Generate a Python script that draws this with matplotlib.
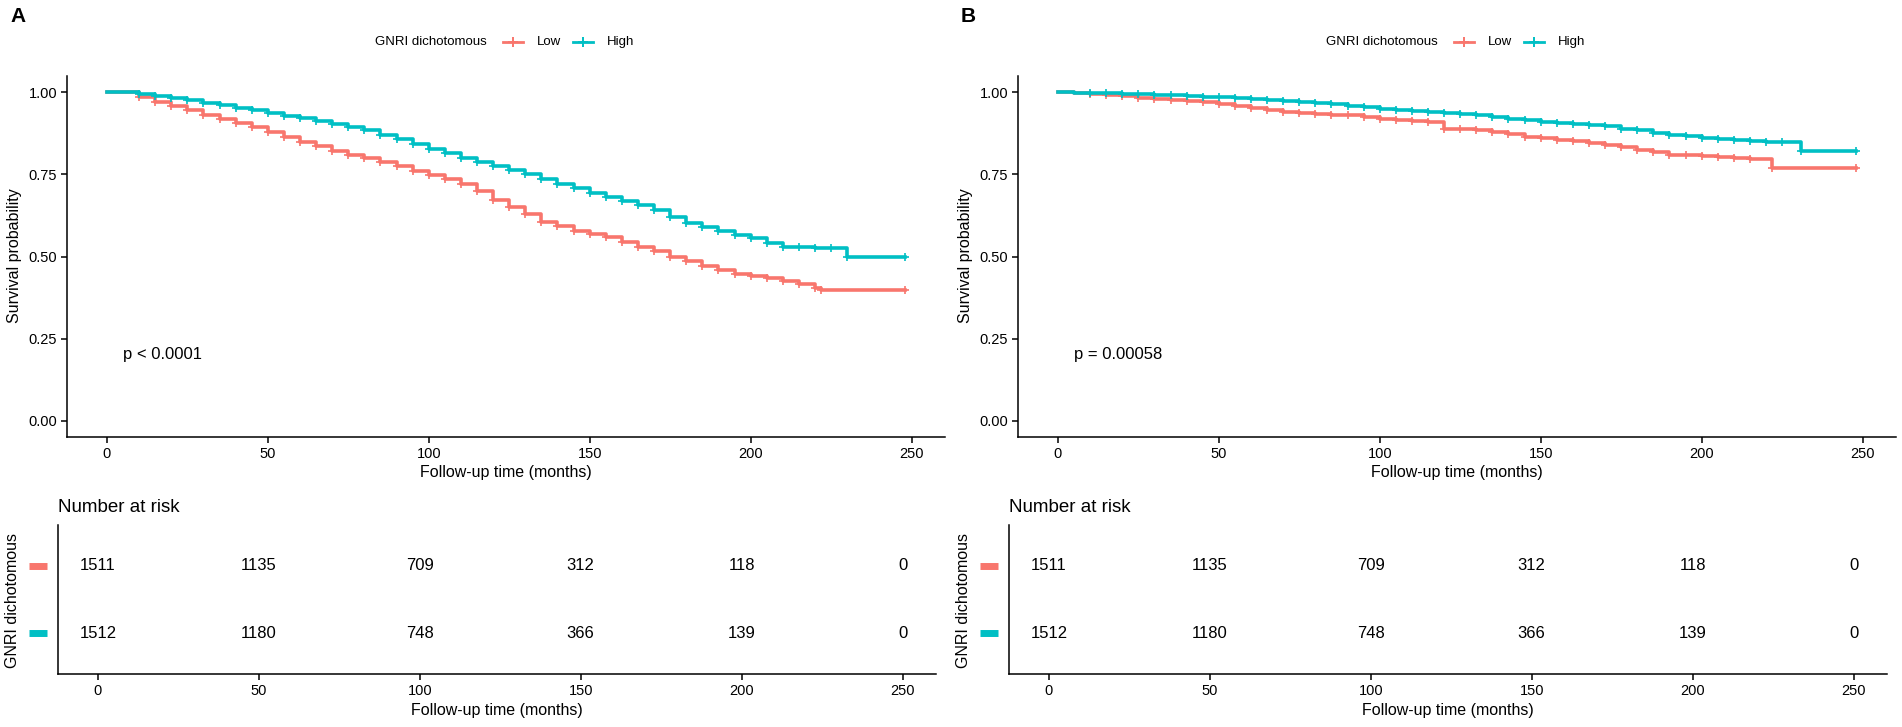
import matplotlib
matplotlib.use('Agg')
import matplotlib.pyplot as plt
from matplotlib import transforms
from matplotlib.lines import Line2D

plt.rcParams['font.family'] = ['Liberation Sans', 'DejaVu Sans']

W, H = 1902, 727

low_col = '#F8766D'
high_col = '#00BFC4'

# panel A survival curves
a_low_t = [0, 5, 10, 15, 20, 25, 30, 35, 40, 45, 50, 55, 60, 65, 70, 75, 80,
           85, 90, 95, 100, 105, 110, 115, 120, 125, 130, 135, 140, 145, 150,
           155, 160, 165, 170, 175, 180, 185, 190, 195, 200, 205, 210, 215,
           220, 222, 248]
a_low_s = [1.0, 1.0, 0.985, 0.972, 0.96, 0.946, 0.932, 0.92, 0.907, 0.894,
           0.879, 0.864, 0.849, 0.836, 0.822, 0.81, 0.799, 0.787, 0.775, 0.76,
           0.748, 0.737, 0.72, 0.70, 0.672, 0.652, 0.628, 0.605, 0.592, 0.578,
           0.57, 0.56, 0.545, 0.53, 0.517, 0.50, 0.485, 0.472, 0.46, 0.448,
           0.44, 0.434, 0.425, 0.415, 0.405, 0.398, 0.398]
a_high_t = [0, 5, 10, 15, 20, 25, 30, 35, 40, 45, 50, 55, 60, 65, 70, 75, 80,
            85, 90, 95, 100, 105, 110, 115, 120, 125, 130, 135, 140, 145, 150,
            155, 160, 165, 170, 175, 180, 185, 190, 195, 200, 205, 210, 215,
            220, 225, 230, 248]
a_high_s = [1.0, 1.0, 0.995, 0.99, 0.983, 0.976, 0.969, 0.961, 0.953, 0.945,
            0.937, 0.929, 0.921, 0.913, 0.904, 0.895, 0.884, 0.871, 0.857,
            0.843, 0.828, 0.814, 0.80, 0.789, 0.775, 0.765, 0.752, 0.737,
            0.722, 0.708, 0.695, 0.682, 0.67, 0.658, 0.642, 0.62, 0.603, 0.59,
            0.578, 0.566, 0.556, 0.542, 0.53, 0.528, 0.527, 0.526, 0.50, 0.50]

# panel B survival curves
b_low_t = [0, 5, 10, 15, 20, 25, 30, 35, 40, 45, 50, 55, 60, 65, 70, 75, 80,
           85, 90, 95, 100, 105, 110, 115, 120, 125, 130, 135, 140, 145, 150,
           155, 160, 165, 170, 175, 180, 185, 190, 195, 200, 205, 210, 215,
           222, 248]
b_low_s = [1.0, 0.998, 0.995, 0.992, 0.988, 0.984, 0.98, 0.977, 0.974, 0.97,
           0.966, 0.958, 0.951, 0.946, 0.941, 0.937, 0.935, 0.932, 0.93, 0.925,
           0.92, 0.916, 0.912, 0.91, 0.89, 0.889, 0.885, 0.878, 0.872, 0.865,
           0.86, 0.856, 0.852, 0.846, 0.84, 0.834, 0.826, 0.817, 0.81, 0.808,
           0.806, 0.803, 0.80, 0.798, 0.77, 0.77]
b_high_t = [0, 5, 10, 15, 20, 25, 30, 35, 40, 45, 50, 55, 60, 65, 70, 75, 80,
            85, 90, 95, 100, 105, 110, 115, 120, 125, 130, 135, 140, 145, 150,
            155, 160, 165, 170, 175, 180, 185, 190, 195, 200, 205, 210, 215,
            220, 225, 231, 248]
b_high_s = [1.0, 0.999, 0.998, 0.997, 0.996, 0.995, 0.993, 0.991, 0.989,
            0.987, 0.985, 0.983, 0.981, 0.978, 0.975, 0.971, 0.968, 0.964,
            0.96, 0.955, 0.95, 0.946, 0.942, 0.94, 0.937, 0.935, 0.93, 0.925,
            0.92, 0.915, 0.91, 0.906, 0.903, 0.901, 0.897, 0.89, 0.884, 0.876,
            0.87, 0.866, 0.862, 0.858, 0.855, 0.852, 0.85, 0.849, 0.82, 0.82]

risk_times = [0, 50, 100, 150, 200, 250]
risk_low = [1511, 1135, 709, 312, 118, 0]
risk_high = [1512, 1180, 748, 366, 139, 0]

panels = [
    ('A', a_low_t, a_low_s, a_high_t, a_high_s, 'p < 0.0001'),
    ('B', b_low_t, b_low_s, b_high_t, b_high_s, 'p = 0.00058'),
]

fig = plt.figure(figsize=(W / 100, H / 100), dpi=100)


def px_axes(x0, y0, x1, y1):
    return fig.add_axes([x0 / W, 1 - y1 / H, (x1 - x0) / W, (y1 - y0) / H])


def px_text(x, y, s, **kw):
    fig.text(x / W, 1 - y / H, s, **kw)


def style_axes(ax):
    for side in ['top', 'right']:
        ax.spines[side].set_visible(False)
    for side in ['left', 'bottom']:
        ax.spines[side].set_linewidth(1.1)
        ax.spines[side].set_color('black')
    ax.tick_params(direction='out', length=4, width=1.1, labelsize=10.5,
                   colors='black', pad=3)


for i, (letter, lt, ls, ht, hs, ptxt) in enumerate(panels):
    off = 951 * i

    # survival plot
    ax = px_axes(67 + off, 76, 945 + off, 437)
    for t, s, col in [(lt, ls, low_col), (ht, hs, high_col)]:
        ax.step(t, s, where='post', color=col, lw=2.6)
        ax.plot(t[2:], s[2:], ls='none', marker='+', ms=6, mew=1.2, color=col)
    ax.set_xlim(-12.4, 260.4)
    ax.set_ylim(-0.05, 1.05)
    ax.set_xticks(risk_times)
    ax.set_yticks([0, 0.25, 0.5, 0.75, 1.0])
    ax.set_yticklabels(['0.00', '0.25', '0.50', '0.75', '1.00'])
    style_axes(ax)
    ax.text(4.96, 0.2, ptxt, fontsize=12, ha='left', va='center')

    px_text(10 + off, 16, letter, fontsize=15, fontweight='bold',
            ha='left', va='center')
    px_text(15 + off, 256, 'Survival probability', fontsize=11.5,
            rotation=90, ha='center', va='center')
    px_text(506 + off, 473, 'Follow-up time (months)', fontsize=11.5,
            ha='center', va='center')

    # legend on top
    ly = 1 - 42 / H
    px_text(375 + off, 42, 'GNRI dichotomous', fontsize=9.5, ha='left',
            va='center')
    for x0, lab, col in [(503, 'Low', low_col), (573, 'High', high_col)]:
        fig.add_artist(Line2D([(x0 + off) / W, (x0 + 20 + off) / W], [ly, ly],
                              color=col, lw=2, transform=fig.transFigure))
        fig.add_artist(Line2D([(x0 + 10 + off) / W], [ly], marker='+', ms=7,
                              mew=1.4, color=col, transform=fig.transFigure))
        px_text(x0 + 34 + off, 42, lab, fontsize=9.5, ha='left', va='center')

    # risk table
    tab = px_axes(58 + off, 525, 936 + off, 674)
    tab.set_xlim(-12.4, 260.4)
    tab.set_ylim(0.4, 2.6)
    tab.set_xticks(risk_times)
    tab.set_yticks([])
    style_axes(tab)
    for t, nl, nh in zip(risk_times, risk_low, risk_high):
        tab.text(t, 2, str(nl), fontsize=12, ha='center', va='center')
        tab.text(t, 1, str(nh), fontsize=12, ha='center', va='center')
    blend = transforms.blended_transform_factory(tab.transAxes, tab.transData)
    for row, col in [(2, low_col), (1, high_col)]:
        tab.plot([-0.033, -0.012], [row, row], color=col, lw=5,
                 solid_capstyle='butt', transform=blend, clip_on=False)

    px_text(58 + off, 507, 'Number at risk', fontsize=13.5, ha='left',
            va='center')
    px_text(13 + off, 600, 'GNRI dichotomous', fontsize=11.5, rotation=90,
            ha='center', va='center')
    px_text(497 + off, 711, 'Follow-up time (months)', fontsize=11.5,
            ha='center', va='center')

fig.savefig('out.png', dpi=100, facecolor='white')
